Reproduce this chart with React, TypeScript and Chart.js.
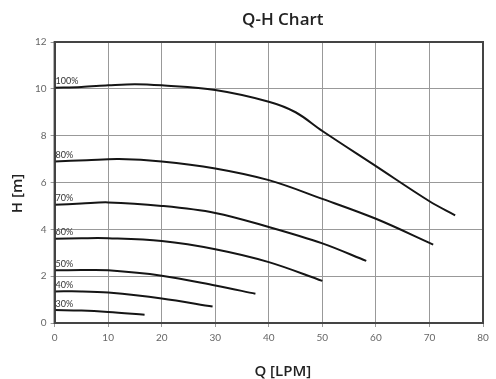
import React, { useEffect, useRef } from "react";
import { Chart, registerables } from "chart.js";

Chart.register(...registerables);

const chartTitle = "Q-H Chart";
const xTitle = "Q [LPM]";
const yTitle = "H [m]";

const speedLabels = ["100%", "80%", "70%", "60%", "50%", "40%", "30%"];

const q100 = [0, 5, 10, 15, 20, 30, 40, 45, 50, 60, 70, 74.8];
const h100 = [10.05, 10.08, 10.15, 10.2, 10.15, 9.95, 9.45, 9.0, 8.2, 6.7, 5.2, 4.6];

const q80 = [0, 6, 12, 20, 30, 40, 50, 60, 70.7];
const h80 = [6.9, 6.95, 7.0, 6.9, 6.6, 6.1, 5.3, 4.45, 3.35];

const q70 = [0, 5, 10, 20, 30, 40, 50, 58.2];
const h70 = [5.05, 5.1, 5.15, 5.0, 4.7, 4.1, 3.4, 2.65];

const q60 = [0, 5, 10, 20, 30, 40, 50];
const h60 = [3.6, 3.62, 3.62, 3.5, 3.15, 2.6, 1.8];

const q50 = [0, 5, 10, 20, 30, 37.5];
const h50 = [2.25, 2.26, 2.25, 2.02, 1.6, 1.25];

const q40 = [0, 5, 10, 20, 29.5];
const h40 = [1.35, 1.35, 1.3, 1.05, 0.7];

const q30 = [0, 5, 10, 16.8];
const h30 = [0.55, 0.53, 0.47, 0.35];

const curveQ = [q100, q80, q70, q60, q50, q40, q30];
const curveH = [h100, h80, h70, h60, h50, h40, h30];

const xTicks = [0, 10, 20, 30, 40, 50, 60, 70, 80];
const yTicks = [0, 2, 4, 6, 8, 10, 12];

const FONT = "Lato, 'Noto Sans', sans-serif";
const TITLE_FONT = "'Open Sans', 'Noto Sans', sans-serif";

const labelPlugin = {
  id: "curveLabels",
  afterDatasetsDraw(chart: any) {
    const { ctx, scales } = chart;
    ctx.save();
    ctx.font = `9px ${FONT}`;
    ctx.fillStyle = "#333";
    ctx.textBaseline = "bottom";
    ctx.textAlign = "left";
    chart.data.datasets.forEach((ds: any) => {
      const p = ds.data[0];
      const x = scales.x.getPixelForValue(p.x) + 1;
      const y = scales.y.getPixelForValue(p.y) - 2;
      ctx.fillText(ds.label, x, y);
    });
    ctx.restore();
  },
};

const borderPlugin = {
  id: "plotBorder",
  afterDraw(chart: any) {
    const { ctx, chartArea } = chart;
    ctx.save();
    ctx.strokeStyle = "#444";
    ctx.lineWidth = 2;
    ctx.strokeRect(chartArea.left, chartArea.top, chartArea.right - chartArea.left, chartArea.bottom - chartArea.top);
    ctx.restore();
  },
};

const titlesPlugin = {
  id: "titles",
  afterDraw(chart: any) {
    const { ctx, chartArea } = chart;
    const cx = (chartArea.left + chartArea.right) / 2 + 14;
    const cy = (chartArea.top + chartArea.bottom) / 2 + 11;
    ctx.save();
    ctx.fillStyle = "#222";
    ctx.textAlign = "center";
    ctx.textBaseline = "alphabetic";
    ctx.font = `600 17px ${TITLE_FONT}`;
    ctx.fillText(chartTitle, cx, chartArea.top - 17);
    ctx.font = `600 15px ${TITLE_FONT}`;
    ctx.fillText(xTitle, cx, chartArea.bottom + 53);
    ctx.translate(chartArea.left - 33, cy);
    ctx.rotate(-Math.PI / 2);
    ctx.fillText(yTitle, 0, 0);
    ctx.restore();
  },
};

export default function App() {
  const ref = useRef<HTMLCanvasElement>(null);
  useEffect(() => {
    document.body.style.margin = "0";
    const datasets = speedLabels.map((label, i) => ({
      label,
      data: curveQ[i].map((q, j) => ({ x: q, y: curveH[i][j] })),
      borderColor: "#151515",
      borderWidth: 2,
      pointRadius: 0,
      tension: 0.35,
      fill: false,
    }));
    const chart = new Chart(ref.current!, {
      type: "line",
      data: { datasets },
      options: {
        responsive: false,
        animation: false,
        layout: { padding: { left: 31, right: 13, top: 42, bottom: 30 } },
        plugins: {
          legend: { display: false },
          tooltip: { enabled: false },
          title: { display: false },
        },
        scales: {
          x: {
            type: "linear",
            min: 0,
            max: 80,
            afterBuildTicks: (axis: any) => {
              axis.ticks = xTicks.map((v) => ({ value: v }));
            },
            ticks: { color: "#666", font: { family: FONT, size: 10 }, padding: 5 },
            grid: { color: "#999", lineWidth: 1, tickLength: 4 },
            border: { color: "#444", width: 2 },
          },
          y: {
            type: "linear",
            min: 0,
            max: 12,
            afterBuildTicks: (axis: any) => {
              axis.ticks = yTicks.map((v) => ({ value: v }));
            },
            ticks: { color: "#666", font: { family: FONT, size: 10 }, padding: 4 },
            grid: { color: "#999", lineWidth: 1, tickLength: 4 },
            border: { color: "#444", width: 2 },
          },
        },
      },
      plugins: [labelPlugin, borderPlugin, titlesPlugin],
    });
    return () => chart.destroy();
  }, []);
  return (
    <div style={{ width: 496, height: 379 }}>
      <canvas ref={ref} width={496} height={379} style={{ display: "block" }} />
    </div>
  );
}
